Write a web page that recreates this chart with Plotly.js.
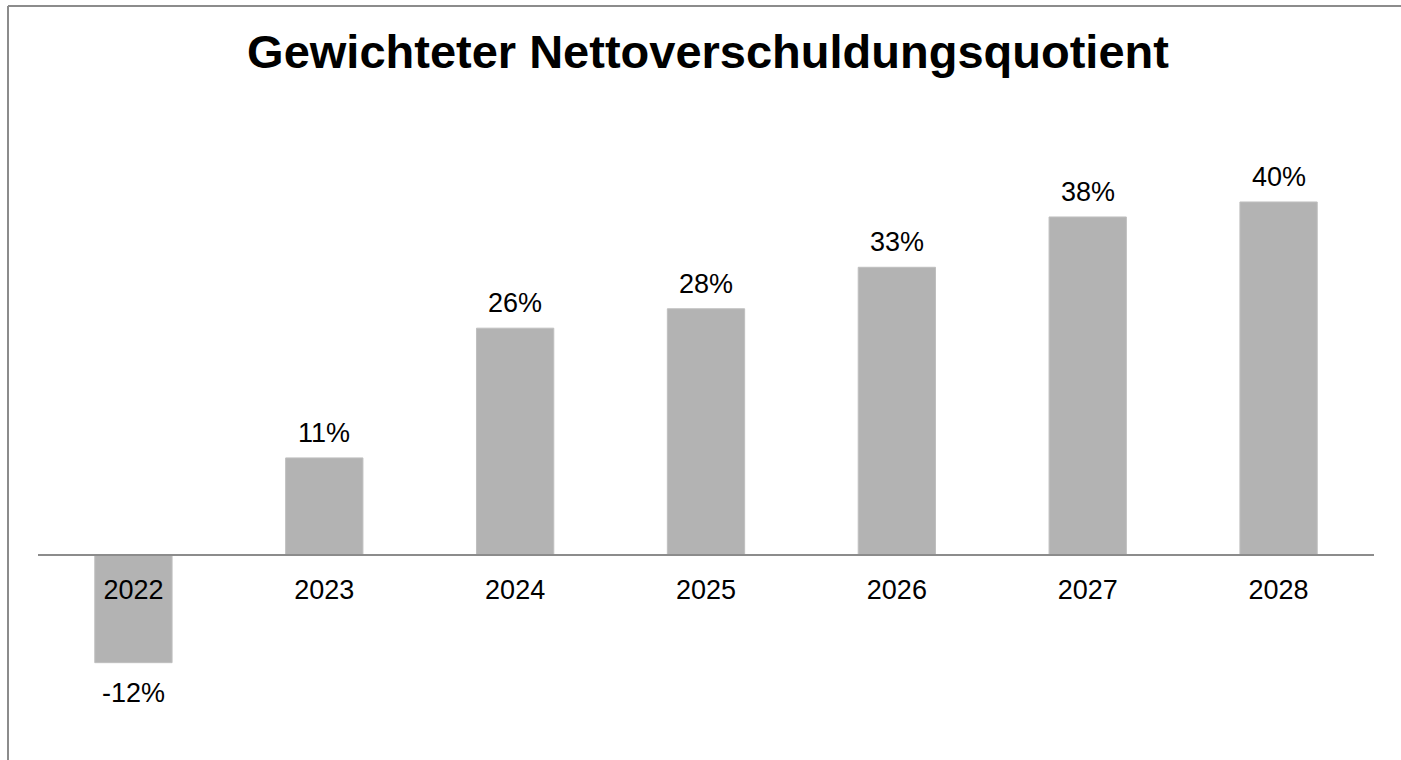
<!DOCTYPE html>
<html>
<head>
<meta charset="utf-8">
<script src="https://cdn.plot.ly/plotly-3.0.1.min.js"></script>
<style>html,body{margin:0;padding:0;background:#fff;overflow:hidden;}#chart{width:1401px;height:760px;}</style>
</head>
<body>
<div id="chart"></div>
<script>
const years = ['2022','2023','2024','2025','2026','2027','2028'];
const ratios = [-12.2, 11.0, 25.7, 27.9, 32.6, 38.3, 40.0];
const chartTitle = 'Gewichteter Nettoverschuldungsquotient';

const W = 1401, H = 760;
const mL = 38, mR = 27, mT = 150, mB = 30;
const plotH = H - mT - mB;
const yRange = [-19.83, 45.89];
const zeroPos = (0 - yRange[0]) / (yRange[1] - yRange[0]);
const plotW = W - mL - mR;
const FONT = 'Arial, "Liberation Sans", sans-serif';

const trace = {
  type: 'bar',
  x: years,
  y: ratios,
  marker: {color: '#b3b3b3', line: {color: '#bfbfbf', width: 1}},
  hoverinfo: 'x+y'
};

const annotations = years.map((yr, i) => ({
  x: i, y: ratios[i], xref: 'x', yref: 'y',
  text: Math.round(ratios[i]) + '%',
  showarrow: false,
  xanchor: 'center',
  yanchor: 'middle',
  yshift: ratios[i] >= 0 ? 25 : -30,
  font: {family: FONT, size: 27, color: '#000'}
}));

const layout = {
  width: W, height: H,
  margin: {l: mL, r: mR, t: mT, b: mB, pad: 0},
  paper_bgcolor: '#fff', plot_bgcolor: '#fff',
  showlegend: false,
  bargap: 0.595,
  font: {family: FONT, color: '#000'},
  title: {
    text: '<b>' + chartTitle + '</b>',
    font: {family: FONT, size: 47, color: '#000'},
    x: 708 / W, xref: 'container', xanchor: 'center',
    y: 1 - 52 / H, yref: 'container', yanchor: 'middle'
  },
  xaxis: {
    type: 'category',
    range: [-0.5, years.length - 0.5],
    anchor: 'free', position: zeroPos,
    showline: true, linecolor: '#8c8c8c', linewidth: 2,
    ticks: '', showgrid: false, zeroline: false,
    tickfont: {family: FONT, size: 27, color: '#000'},
    ticklabelstandoff: 11
  },
  yaxis: {
    range: yRange,
    showticklabels: false, showline: false, ticks: '',
    showgrid: false, zeroline: false
  },
  annotations: annotations,
  shapes: [
    {type: 'line', xref: 'paper', yref: 'paper',
     x0: (8 - mL) / plotW, x1: (8 - mL) / plotW,
     y0: -0.2, y1: (H - mB - 6) / plotH,
     line: {color: '#8c8c8c', width: 2}, layer: 'above'},
    {type: 'line', xref: 'paper', yref: 'paper',
     x0: (8 - mL) / plotW, x1: 1.1,
     y0: (H - mB - 6) / plotH, y1: (H - mB - 6) / plotH,
     line: {color: '#8c8c8c', width: 2}, layer: 'above'}
  ]
};

Plotly.newPlot('chart', [trace], layout, {displayModeBar: false, staticPlot: true});
</script>
</body>
</html>
